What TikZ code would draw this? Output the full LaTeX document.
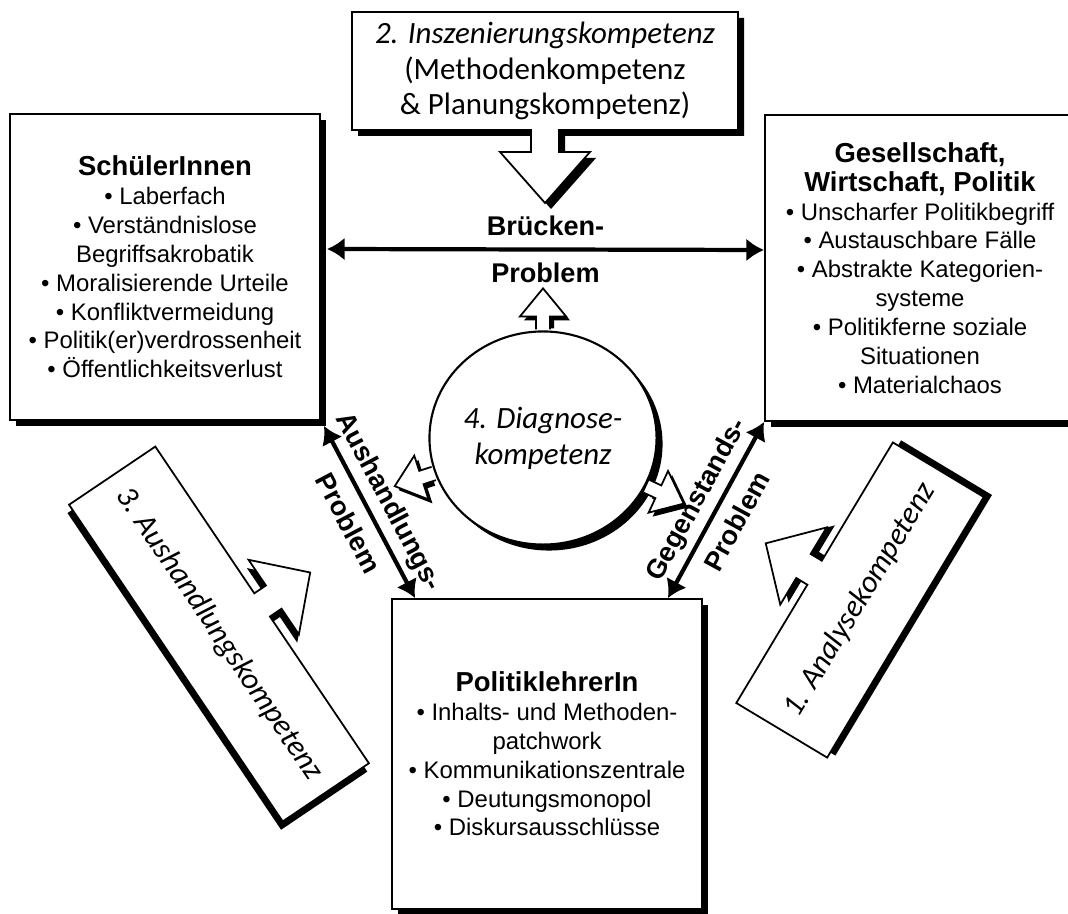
\documentclass[tikz,border=0pt]{standalone}
\usepackage{fontspec}
\setmainfont{Liberation Sans}
\newfontfamily\calibri{Carlito}
\usetikzlibrary{arrows.meta, shapes.geometric, shadows, calc}

\tikzset{
  schatten/.style={drop shadow={shadow xshift=0.06cm, shadow yshift=-0.06cm, opacity=1, fill=black}},
  feld/.style={draw, line width=0.5pt, fill=white, align=center, inner sep=0pt,
    minimum width=3.1cm, minimum height=3.06cm, font=\fontsize{6.8}{8.2}\selectfont, schatten},
  kompetenz/.style={align=center, font=\calibri\fontsize{8.8}{10.2}\selectfont},
  diagnose/.style={ellipse, draw, line width=0.6pt, fill=white, inner sep=0pt,
    minimum width=2.27cm, minimum height=2.13cm, kompetenz, schatten},
  problem/.style={{Latex[length=5pt,width=6.5pt]}-{Latex[length=5pt,width=6.5pt]}, line width=1.2pt},
  problemtext/.style={midway, sloped, align=center, font=\bfseries\fontsize{7.7}{13.4}\selectfont}
}

% Ueberschrift in den Feldern
\newcommand{\kopf}[1]{{\bfseries\fontsize{7.8}{8.2}\selectfont #1}}

% Kasten mit Blockpfeil: Name, Mitte, Drehung, halbe Laenge, halbe Breite, Schaftende, Spitze, Text
\newcommand{\kompetenzfeld}[8]{%
  \fill[black, shift={#2}, rotate=#3, shift={(6,-6)}]
    (-#4,{-(#5)}) -- (#4,{-(#5)}) -- (#4,#5) -- (14,#5) -- (14,#6) -- (45,#6) -- (0,#7)
    -- (-45,#6) -- (-14,#6) -- (-14,#5) -- (-#4,#5) -- cycle;
  \draw[line width=0.5pt, fill=white, shift={#2}, rotate=#3]
    (-#4,{-(#5)}) -- (#4,{-(#5)}) -- (#4,#5) -- (14,#5) -- (14,#6) -- (45,#6) -- (0,#7)
    -- (-45,#6) -- (-14,#6) -- (-14,#5) -- (-#4,#5) -- cycle;
  \node[kompetenz, rotate=#3] (#1) at #2 {#8};
}

\begin{document}
\begin{tikzpicture}[x=0.01cm, y=0.01cm]
    \useasboundingbox (0,0) rectangle (1068,-913);

    % Kompetenzen mit Pfeil
    \kompetenzfeld{IK}{(545,-71)}{0}{193}{-59}{-81}{-132}{\textit{2. Inszenierungskompetenz}\\(Methodenkompetenz\\\& Planungskompetenz)}
    \kompetenzfeld{AK}{(219,-634)}{-56}{191}{52}{66}{110}{\textit{3. Aushandlungskompetenz}}
    \kompetenzfeld{NK}{(860,-600)}{59}{152}{53}{66}{110}{\textit{1. Analysekompetenz}}

    % Akteure
    \node[feld] (S) at (165,-267) {\kopf{SchülerInnen}\\
        \textbullet{} Laberfach\\ \textbullet{} Verständnislose\\ Begriffsakrobatik\\
        \textbullet{} Moralisierende Urteile\\ \textbullet{} Konfliktvermeidung\\
        \textbullet{} Politik(er)verdrossenheit\\ \textbullet{} Öffentlichkeitsverlust};
    \node[feld] (G) at (920,-268) {\kopf{Gesellschaft,}\\ \kopf{Wirtschaft, Politik}\\
        \textbullet{} Unscharfer Politikbegriff\\ \textbullet{} Austauschbare Fälle\\
        \textbullet{} Abstrakte Kategorien-\\ systeme\\ \textbullet{} Politikferne soziale\\
        Situationen\\ \textbullet{} Materialchaos};
    \node[feld, minimum height=3.1cm] (P) at (547,-754) {\kopf{PolitiklehrerIn}\\
        \textbullet{} Inhalts- und Methoden-\\ patchwork\\ \textbullet{} Kommunikationszentrale\\
        \textbullet{} Deutungsmonopol\\ \textbullet{} Diskursausschlüsse};

    % Diagnosekompetenz
    \node[diagnose] (D) at (543,-438) {\textit{4. Diagnose-}\\\textit{kompetenz}};
    \foreach \w in {90,198,-25} {
        \fill[black, shift={($(D.\w)+(4,-4)$)}, rotate=\w] (6,-7) -- (14,-7) -- (14,-23) -- (42,0) -- (14,23) -- (14,7) -- (6,7) -- cycle;
        \draw[line width=0.5pt, fill=white, shift={(D.\w)}, rotate=\w] (1,-7) -- (14,-7) -- (14,-23) -- (42,0) -- (14,23) -- (14,7) -- (1,7);
    }

    % Probleme
    \draw[problem] ($(S.east)+(6,18)$) -- ($(G.west)+(0,18)$) node[problemtext] (BP) {Brücken-\\Problem};
    \draw[problem] ($(S.south east)+(3,-5)$) -- ([xshift=0.24cm]P.north west) node[problemtext] (AP) {Aushandlungs-\\Problem};
    \draw[problem] ([xshift=-0.35cm]P.north east) -- (G.south west) node[problemtext] (GP) {Gegenstands-\\Problem};
\end{tikzpicture}
\end{document}
